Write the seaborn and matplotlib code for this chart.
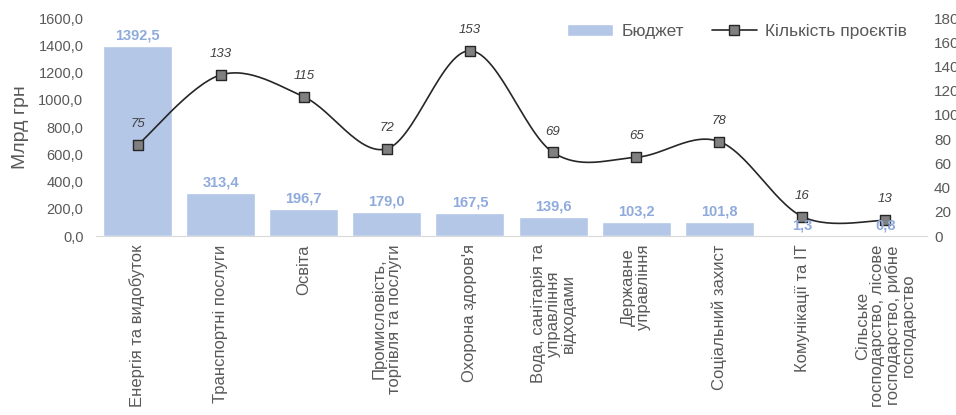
import numpy as np
import pandas as pd
import seaborn as sns
import matplotlib.pyplot as plt
from matplotlib.patches import Patch
from matplotlib.lines import Line2D
from matplotlib.ticker import FuncFormatter, MultipleLocator

sectors = [
    "Енергія та видобуток",
    "Транспортні послуги",
    "Освіта",
    "Промисловість,\nторгівля та послуги",
    "Охорона здоров'я",
    "Вода, санітарія та\nуправління\nвідходами",
    "Державне\nуправління",
    "Соціальний захист",
    "Комунікації та ІТ",
    "Сільське\nгосподарство, лісове\nгосподарство, рибне\nгосподарство",
]
budget = [1392.5, 313.4, 196.7, 179.0, 167.5, 139.6, 103.2, 101.8, 1.3, 0.8]
projects = [75, 133, 115, 72, 153, 69, 65, 78, 16, 13]

BAR = '#B4C7E7'
BAR_LABEL = '#8FAADC'
GREY = '#595959'
DARK = '#262626'


def smooth(xs, ys, n=30):
    # catmull-rom through the points, like excel's smoothed line
    p = np.column_stack([xs, ys]).astype(float)
    p = np.vstack([p[0], p, p[-1]])
    t = np.linspace(0, 1, n, endpoint=False)[:, None]
    out = []
    for i in range(1, len(p) - 2):
        p0, p1, p2, p3 = p[i - 1], p[i], p[i + 1], p[i + 2]
        seg = 0.5 * (2 * p1 + (-p0 + p2) * t
                     + (2 * p0 - 5 * p1 + 4 * p2 - p3) * t ** 2
                     + (-p0 + 3 * p1 - 3 * p2 + p3) * t ** 3)
        out.append(seg)
    out.append(p[-2][None, :])
    out = np.vstack(out)
    return out[:, 0], out[:, 1]


def create_chart():
    sns.set_style('white')
    plt.rcParams['font.family'] = ['Liberation Sans', 'DejaVu Sans']

    fig = plt.figure(figsize=(9.56, 4.15), dpi=100)
    ax = fig.add_axes([0.1004, 0.4313, 0.8693, 0.5253])

    df = pd.DataFrame({'sector': sectors, 'budget': budget})
    sns.barplot(data=df, x='sector', y='budget', color=BAR, saturation=1,
                width=0.83, ax=ax)
    ax.set_ylim(0, 1600)
    ax.yaxis.set_major_locator(MultipleLocator(200))
    ax.yaxis.set_major_formatter(FuncFormatter(lambda v, p: f"{v:.1f}".replace('.', ',')))
    ax.tick_params(axis='y', length=0, labelsize=10.5, labelcolor=GREY, pad=9)
    ax.tick_params(axis='x', length=0, labelsize=12, labelcolor=GREY, pad=6)
    ax.set_xticks(range(len(sectors)))
    ax.set_xticklabels(sectors, rotation=90, ha='center', va='top',
                       multialignment='center', linespacing=1.0)
    ax.set_xlabel(None)
    ax.set_ylabel('Млрд грн', fontsize=14, color=GREY)
    ax.yaxis.set_label_coords(-0.08, 0.5)
    for s in ['top', 'left', 'right']:
        ax.spines[s].set_visible(False)
    ax.spines['bottom'].set_color('#D9D9D9')

    ax2 = ax.twinx()
    xpos = np.arange(len(sectors))
    sx, sy = smooth(xpos, projects)
    ax2.plot(sx, sy, color=DARK, lw=1.2, zorder=2)
    sns.scatterplot(x=xpos, y=projects, marker='s', s=55, color='#808080',
                    edgecolor=DARK, linewidth=1, ax=ax2, zorder=3)
    ax2.set_ylim(0, 180)
    ax2.set_xlim(-0.5, len(sectors) - 0.5)
    ax2.yaxis.set_major_locator(MultipleLocator(20))
    ax2.tick_params(axis='y', length=0, labelsize=11, labelcolor=GREY, pad=5)
    for s in ax2.spines.values():
        s.set_visible(False)

    # bar labels go on the top axes so they sit over the line like in excel
    for i, v in enumerate(budget):
        ax2.annotate(f"{v:.1f}".replace('.', ','), (i, v), xycoords=ax.transData,
                     xytext=(0, 7.5), textcoords='offset points', ha='center',
                     va='center', fontsize=10.5, fontweight='bold',
                     color=BAR_LABEL, zorder=4)

    for i, v in enumerate(projects):
        ax2.annotate(str(v), (i, v), xytext=(0, 15), textcoords='offset points',
                     ha='center', va='center', fontsize=9.5, style='italic',
                     color='#404040')

    handles = [Patch(facecolor=BAR),
               Line2D([0], [0], color=DARK, lw=1.2, marker='s', markersize=7,
                      markerfacecolor='#808080', markeredgecolor=DARK)]
    ax2.legend(handles, ['Бюджет', 'Кількість проєктів'], ncol=2, frameon=False,
               loc='upper right', bbox_to_anchor=(0.995, 1.045), fontsize=12.5,
               labelcolor=GREY, handlelength=2.6, handletextpad=0.5,
               columnspacing=1.6)

    fig.savefig('out.png', dpi=100)


if __name__ == '__main__':
    create_chart()
